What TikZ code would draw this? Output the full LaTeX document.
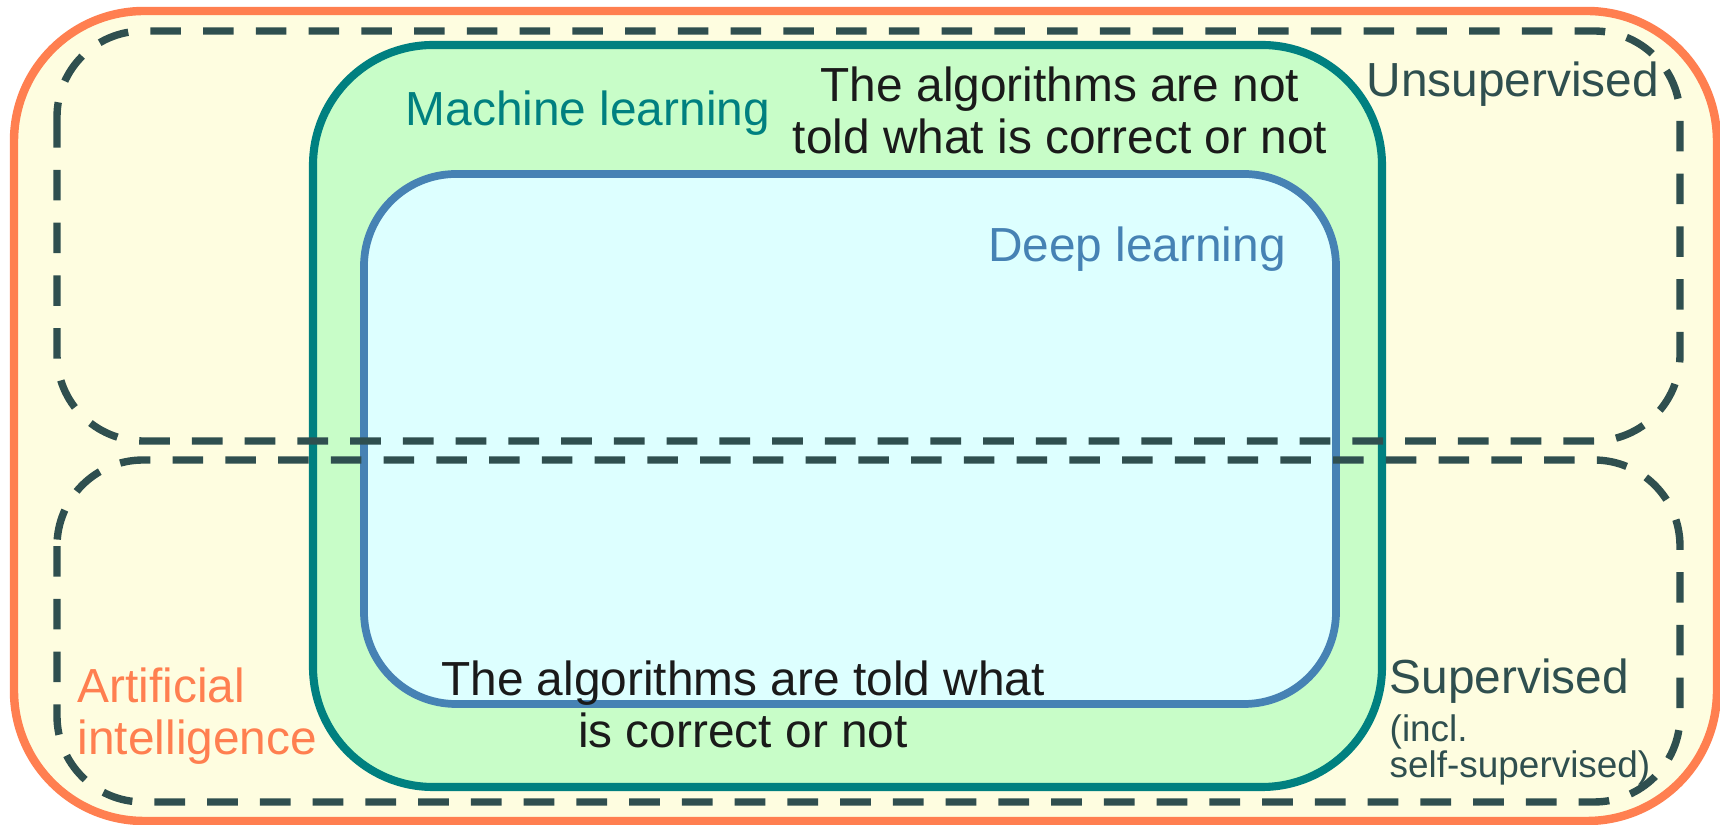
\documentclass[tikz,border=0pt]{standalone}
\usepackage{fontspec}
\setmainfont{Liberation Sans}
\usepackage{tikz}
\definecolor{aiOrange}{HTML}{FF7F50}
\definecolor{aiFill}{HTML}{FEFDE0}
\definecolor{mlTeal}{HTML}{008080}
\definecolor{mlFill}{HTML}{C8FDC8}
\definecolor{dlBlue}{HTML}{4682B4}
\definecolor{dlFill}{HTML}{DDFFFF}
\definecolor{groupSlate}{HTML}{2F4F4F}
\definecolor{ink}{HTML}{1A1A1A}

\begin{document}
\begin{tikzpicture}[x=0.01cm, y=-0.01cm,
    boxtext/.style={inner sep=0pt, align=center, font=\fontsize{13.6pt}{14.8pt}\selectfont},
    smalltext/.style={inner sep=0pt, align=left, font=\fontsize{10.5pt}{10.4pt}\selectfont},
    groupline/.style={groupSlate, line width=2.1pt, dash pattern=on 8.7pt off 6.3pt, rounded corners=0.86cm}]
    \useasboundingbox (0,0) rectangle (1720,825);

    % draw nested areas
    \draw[aiOrange, fill=aiFill, line width=2.4pt, rounded corners=1.3cm] (14,11) rectangle (1717,821);
    \draw[mlTeal, fill=mlFill, line width=2.3pt, rounded corners=1.2cm] (313,45) rectangle (1382,787);
    \draw[dlBlue, fill=dlFill, line width=2.2pt, rounded corners=0.92cm] (364,174) rectangle (1336,704);

    % draw dashed groups
    \draw[groupline] (57,31) rectangle (1680,441);
    \draw[groupline] (57,460) rectangle (1680,802);

    % draw labels (multi-line ones sit on their last baseline)
    \node[boxtext, text=mlTeal, anchor=base west] (ml) at (405,126) {Machine learning};
    \node[boxtext, text=dlBlue, anchor=base] (dl) at (1137,262) {Deep learning};
    \node[boxtext, text=aiOrange, anchor=base west, align=left] (ai) at (77,755) {Artificial\\intelligence};

    \node[boxtext, text=ink, anchor=base] (unsupnote) at (1060,154) {The algorithms are not\\told what is correct or not};
    \node[boxtext, text=groupSlate, anchor=base west] (unsup) at (1366,97) {Unsupervised};

    \node[boxtext, text=ink, anchor=base] (supnote) at (743,748) {The algorithms are told what\\is correct or not};
    \node[boxtext, text=groupSlate, anchor=base west] (sup) at (1389,694) {Supervised};
    \node[smalltext, text=groupSlate, anchor=base west] (selfsup) at (1389,778) {(incl.\\self-supervised)};
\end{tikzpicture}
\end{document}
